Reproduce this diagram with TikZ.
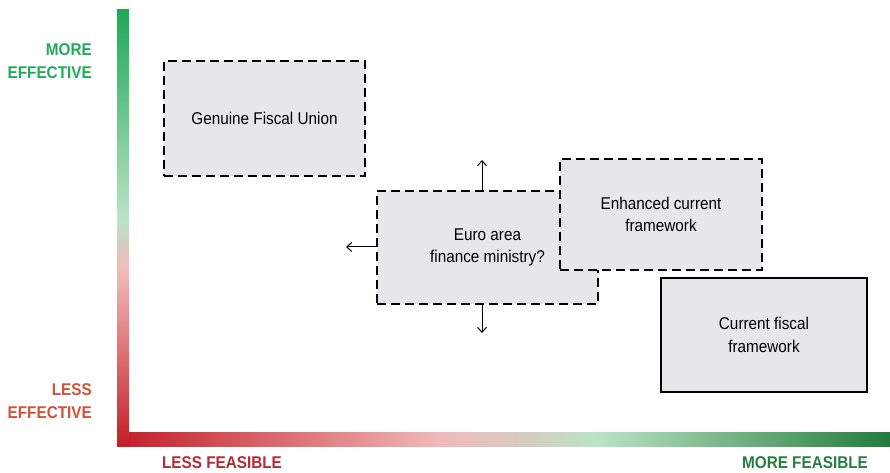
\documentclass[tikz,border=0pt]{standalone}
\usepackage{fontspec}
\setmainfont[FakeStretch=0.9]{Liberation Sans}
\usepackage{tikz}
\usetikzlibrary{arrows.meta, positioning, calc}
\usepackage{xcolor}
\definecolor{boxfill}{RGB}{230,231,232}
\definecolor{effgreen}{RGB}{34,170,90}
\definecolor{effred}{RGB}{208,82,58}
\definecolor{feasred}{RGB}{178,44,54}
\definecolor{feasgreen}{RGB}{38,126,64}
\definecolor{barred}{RGB}{196,28,38}
\definecolor{barpink}{RGB}{240,186,186}
\definecolor{bargray}{RGB}{215,202,190}
\definecolor{barmint}{RGB}{186,228,198}
\definecolor{bargreen}{RGB}{30,168,88}
\definecolor{bardark}{RGB}{34,124,60}
\pgfdeclareverticalshading{effshade}{100bp}{color(0bp)=(barred); color(25bp)=(barred);
  color(45bp)=(barpink); color(48bp)=(bargray); color(51bp)=(barmint);
  color(75bp)=(bargreen); color(100bp)=(bargreen)}
\pgfdeclarehorizontalshading{feasshade}{100bp}{color(0bp)=(barred); color(25bp)=(barred);
  color(46bp)=(barpink); color(51bp)=(bargray); color(56bp)=(barmint);
  color(75bp)=(bardark); color(100bp)=(bardark)}

\begin{document}
\begin{tikzpicture}[x=1pt, y=1pt,
    font=\fontsize{17}{22.5}\selectfont,
    optbox/.style={draw=black, fill=boxfill, line width=2.3pt, align=center, inner sep=0pt},
    proposal/.style={optbox, dash pattern=on 9pt off 5pt},
    axislabel/.style={font=\fontsize{17}{23}\selectfont\bfseries, inner sep=0pt},
    >={Straight Barb[length=5pt,width=9pt]}]
        \useasboundingbox (0,0) rectangle (890,473);
        % Axes (shaded bars)
        \shade[shading=feasshade] (117,26) rectangle (890,40);
        \shade[shading=effshade] (117,26) rectangle (129,463);
        % Axis labels
        \node[axislabel, text=effgreen, anchor=east, align=right] (moreeff) at (92,411.5) {MORE\\EFFECTIVE};
        \node[axislabel, text=effred, anchor=east, align=right] (lesseff) at (92,72) {LESS\\EFFECTIVE};
        \node[axislabel, text=feasred] (lessfeas) at (222,10) {LESS FEASIBLE};
        \node[axislabel, text=feasgreen] (morefeas) at (805,10) {MORE FEASIBLE};
        % Options
        \node[proposal, minimum width=201pt, minimum height=115pt] (union) at (264.5,354.5) {Genuine Fiscal Union};
        \node[proposal, minimum width=221pt, minimum height=113pt] (ministry) at (487.5,225.5) {Euro area\\finance ministry?};
        \node[proposal, minimum width=202pt, minimum height=111pt] (enhanced) at (661,258.5) {Enhanced current\\framework};
        \node[optbox, minimum width=206pt, minimum height=114pt] (current) at (764,138) {Current fiscal\\framework};
        % Open directions of the ministry
        \coordinate (upend) at (482,313);
        \coordinate (leftend) at (346,226);
        \coordinate (downend) at (482,140);
        \draw[->, line width=1pt] (ministry.north -| upend) -- (upend);
        \draw[->, line width=1pt] (ministry.west |- leftend) -- (leftend);
        \draw[->, line width=1pt] (ministry.south -| downend) -- (downend);
      \end{tikzpicture}
\end{document}
